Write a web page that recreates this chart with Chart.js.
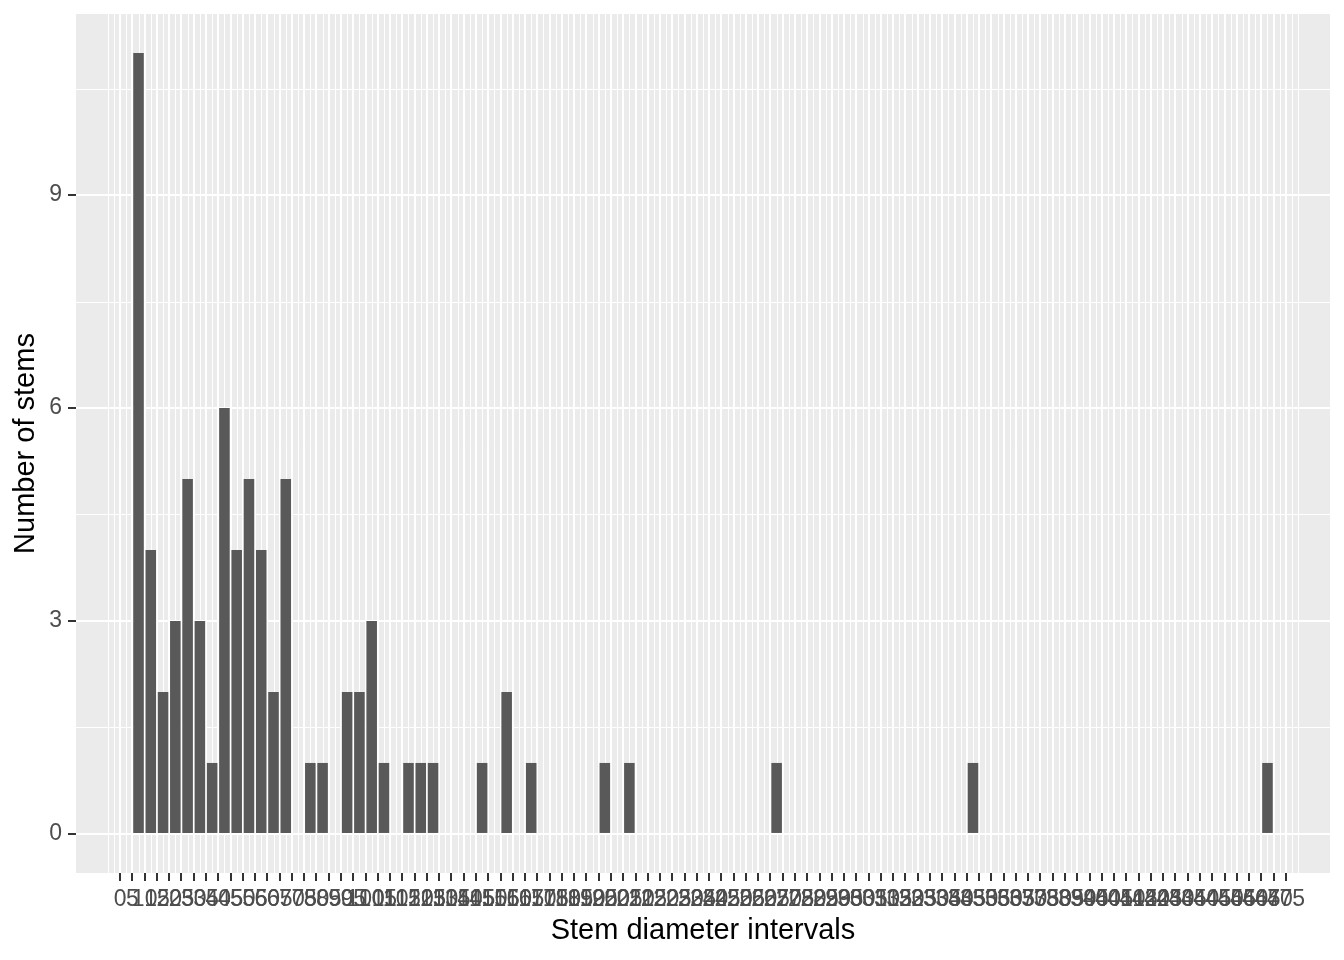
<!DOCTYPE html>
<html>
<head>
<meta charset="utf-8">
<script src="https://cdn.jsdelivr.net/npm/chart.js@4/dist/chart.umd.min.js"></script>
<style>
    body{ margin:0; background:#FFFFFF; }
    #wrap{ width:1344px; height:960px; position:relative; }
</style>
</head>
<body>
<div id="wrap"><canvas id="barChart"></canvas></div>
<script>

// interval midpoints (stem diameter) and number of stems in each
const binMids = [
    7.5, 12.5, 17.5, 22.5, 27.5, 32.5, 37.5, 42.5, 47.5, 52.5, 57.5, 62.5, 67.5,
    77.5, 82.5,
    92.5, 97.5, 102.5, 107.5,
    117.5, 122.5, 127.5,
    147.5, 157.5, 167.5,
    197.5, 207.5,
    267.5, 347.5, 467.5
];

const stemCounts = [
    11, 4, 2, 3, 5, 3, 1, 6, 4, 5, 4, 2, 5,
    1, 1,
    2, 2, 3, 1,
    1, 1, 1,
    1, 2, 1,
    1, 1,
    1, 1, 1
];

const xTickLabels = [
    0, 5, 10, 15, 20, 25, 30, 35, 40, 45, 50, 55, 60, 65, 70, 75, 80, 85, 90, 95,
    100, 105, 110, 115, 120, 125, 130, 135, 140, 145, 150, 155, 160, 165, 170, 175, 180, 185, 190, 195,
    200, 205, 210, 215, 220, 225, 230, 235, 240, 245, 250, 255, 260, 265, 270, 275, 280, 285, 290, 295,
    300, 305, 310, 315, 320, 325, 330, 335, 340, 345, 350, 355, 360, 365, 370, 375, 380, 385, 390, 395,
    400, 405, 410, 415, 420, 425, 430, 435, 440, 445, 450, 455, 460, 465, 470, 475
];

const yTickLabels = [0, 3, 6, 9];

// ggplot style panel: grey background + thin white minor grid
const panelPlugin = {

    id:"panel",

    beforeDraw(chart){

        const {ctx, chartArea:a, scales} = chart;

        ctx.save();

        ctx.fillStyle = "#EBEBEB";
        ctx.fillRect(a.left, a.top, a.width, a.height);

        ctx.strokeStyle = "#FFFFFF";
        ctx.lineWidth = 1;

        const xs = scales.x;
        const xStep = xTickLabels[1] - xTickLabels[0];
        const xFirst = xTickLabels[0] - xStep;
        const xLast = xTickLabels[xTickLabels.length - 1] + xStep;

        for(let v = xFirst; v <= xLast + 0.001; v += xStep / 2){

            if(v < xs.min || v > xs.max) continue;

            const px = Math.round(xs.getPixelForValue(v)) + 0.5;

            ctx.beginPath();
            ctx.moveTo(px, a.top);
            ctx.lineTo(px, a.bottom);
            ctx.stroke();

        }

        const ys = scales.y;
        const yStep = yTickLabels[1] - yTickLabels[0];
        const yFirst = yTickLabels[0] - yStep;
        const yLast = yTickLabels[yTickLabels.length - 1] + yStep;

        for(let v = yFirst; v <= yLast + 0.001; v += yStep / 2){

            if(v < ys.min || v > ys.max) continue;

            const py = Math.round(ys.getPixelForValue(v)) + 0.5;

            ctx.beginPath();
            ctx.moveTo(a.left, py);
            ctx.lineTo(a.right, py);
            ctx.stroke();

        }

        ctx.restore();

    }

};

const tickFont = { family:"'Liberation Sans', Arial, sans-serif", size:23 };
const titleFont = { family:"'Liberation Sans', Arial, sans-serif", size:29 };

const ctx = document.getElementById("barChart").getContext("2d");

const barChart = new Chart(ctx,{

    type:"bar",

    data:{

        datasets:[{

            label:"Number of stems",

            data:binMids.map((m, i) => ({ x:m, y:stemCounts[i] })),

            backgroundColor:"#595959",

            borderWidth:0,

            categoryPercentage:1,

            barPercentage:0.86

        }]

    },

    options:{

        responsive:true,

        maintainAspectRatio:false,

        animation:false,

        layout:{
            padding:{ top:14, right:14, bottom:0, left:0 }
        },

        plugins:{
            legend:{ display:false },
            tooltip:{ enabled:false }
        },

        scales:{

            x:{

                type:"linear",

                offset:false,

                min:-17.975,

                max:492.975,

                afterBuildTicks:(scale)=>{
                    scale.ticks = xTickLabels.map(v => ({ value:v }));
                },

                afterFit:(scale)=>{
                    scale.height = 87;
                    scale.paddingLeft = 0;
                    scale.paddingRight = 0;
                },

                ticks:{
                    autoSkip:false,
                    maxRotation:0,
                    minRotation:0,
                    color:"#4D4D4D",
                    font:tickFont,
                    padding:5
                },

                grid:{
                    offset:false,
                    color:"#FFFFFF",
                    lineWidth:2,
                    tickColor:"#333333",
                    tickLength:8,
                    tickWidth:2
                },

                border:{ display:false },

                title:{
                    display:true,
                    text:"Stem diameter intervals",
                    color:"#000000",
                    font:titleFont,
                    padding:{ top:0, bottom:12 }
                }

            },

            y:{

                min:-0.55,

                max:11.55,

                afterBuildTicks:(scale)=>{
                    scale.ticks = yTickLabels.map(v => ({ value:v }));
                },

                afterFit:(scale)=>{
                    scale.width = 76;
                    scale.paddingTop = 0;
                    scale.paddingBottom = 0;
                },

                ticks:{
                    color:"#4D4D4D",
                    font:tickFont,
                    padding:6
                },

                grid:{
                    color:"#FFFFFF",
                    lineWidth:2,
                    tickColor:"#333333",
                    tickLength:8,
                    tickWidth:2
                },

                border:{ display:false },

                title:{
                    display:true,
                    text:"Number of stems",
                    color:"#000000",
                    font:titleFont,
                    padding:{ top:9, bottom:0 }
                }

            }

        }

    },

    plugins:[panelPlugin]

});

</script>
</body>
</html>
